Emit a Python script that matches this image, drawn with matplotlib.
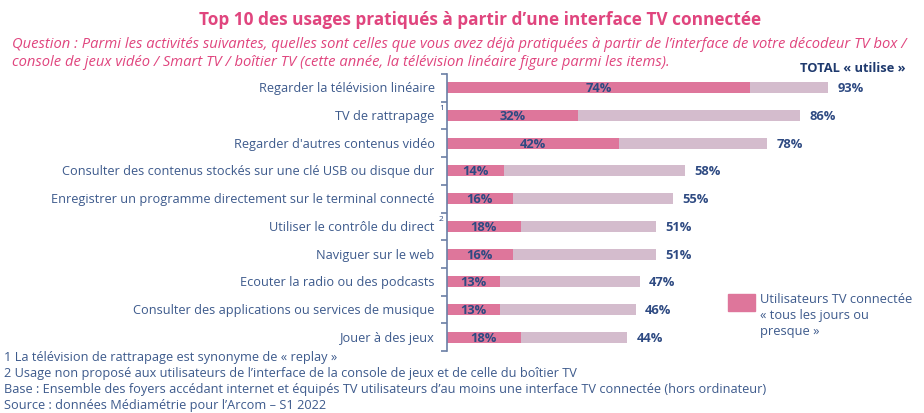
import numpy as np
import matplotlib.pyplot as plt
from matplotlib.patches import Rectangle

plt.rcParams['font.family'] = ['Open Sans', 'DejaVu Sans']

# data
categories = [
    "Regarder la télévision linéaire",
    "TV de rattrapage",
    "Regarder d'autres contenus vidéo",
    "Consulter des contenus stockés sur une clé USB ou disque dur",
    "Enregistrer un programme directement sur le terminal connecté",
    "Utiliser le contrôle du direct",
    "Naviguer sur le web",
    "Ecouter la radio ou des podcasts",
    "Consulter des applications ou services de musique",
    "Jouer à des jeux",
]
daily = [74, 32, 42, 14, 16, 18, 16, 13, 13, 18]
total = [93, 86, 78, 58, 55, 51, 51, 47, 46, 44]
footnote_marks = {1: "1", 5: "2"}

W, H = 924, 414
PINK = "#de769b"
LIGHT = "#d4bccd"
NAVY = "#2e4a82"
TXT = "#3d5a8c"
TITLE = "#e0457e"

fig = plt.figure(figsize=(W / 100, H / 100), dpi=100)

# axes in pixel coords
x0, x1 = 447, 857
ytop, ybot = 75, 352
ax = fig.add_axes([x0 / W, 1 - ybot / H, (x1 - x0) / W, (ybot - ytop) / H])
y = np.arange(len(categories))
ax.barh(y, total, height=0.4, color=LIGHT)
ax.barh(y, daily, height=0.4, color=PINK)
ax.set_xlim(0, 100)
ax.set_ylim(len(categories) - 0.5, -0.5)

for s in ["top", "right", "bottom"]:
    ax.spines[s].set_visible(False)
ax.spines["left"].set_color("#6b7fa5")
ax.spines["left"].set_linewidth(1.2)
ax.set_xticks([])
ax.set_yticks(np.arange(-0.5, len(categories)), minor=False)
ax.set_yticklabels([])
ax.tick_params(axis="y", length=4, width=1.2, color="#6b7fa5", direction="out")

for i, (c, d, t) in enumerate(zip(categories, daily, total)):
    ax.text(-3.0, i, c, ha="right", va="center", fontsize=9.2, color=TXT)
    ax.text(d / 2, i, f"{d}%", ha="center", va="center", fontsize=9.3,
            fontweight="bold", color=NAVY)
    ax.text(t + 2.3, i, f"{t}%", ha="left", va="center", fontsize=9.3,
            fontweight="bold", color=NAVY)
for i, m in footnote_marks.items():
    ax.text(-1.4, i - 0.3, m, ha="center", va="center", fontsize=6, color=NAVY)

# titles
fig.text(480 / W, 1 - 20 / H, "Top 10 des usages pratiqués à partir d’une interface TV connectée",
         ha="center", va="center", fontsize=12.4, fontweight="bold", color=TITLE)
fig.text(12 / W, 1 - 44 / H,
         "Question : Parmi les activités suivantes, quelles sont celles que vous avez déjà pratiquées à partir de l’interface de votre décodeur TV box /",
         ha="left", va="center", fontsize=10.6, style="italic", color=TITLE)
fig.text(12 / W, 1 - 62 / H,
         "console de jeux vidéo / Smart TV / boîtier TV (cette année, la télévision linéaire figure parmi les items).",
         ha="left", va="center", fontsize=10.6, style="italic", color=TITLE)
fig.text(906 / W, 1 - 68 / H, "TOTAL « utilise »", ha="right", va="center",
         fontsize=9.3, fontweight="bold", color="#1f3a6e")

# legend
fig.patches.append(Rectangle((728 / W, 1 - 312 / H), 27 / W, 17 / H,
                             transform=fig.transFigure, color=PINK))
fig.text(760 / W, 1 - 293 / H, "Utilisateurs TV connectée\n« tous les jours ou\npresque »",
         ha="left", va="top", fontsize=9.3, color=TXT, linespacing=1.3)

# footnotes
notes = [
    "1 La télévision de rattrapage est synonyme de « replay »",
    "2 Usage non proposé aux utilisateurs de l’interface de la console de jeux et de celle du boîtier TV",
    "Base : Ensemble des foyers accédant internet et équipés TV utilisateurs d’au moins une interface TV connectée (hors ordinateur)",
    "Source : données Médiamétrie pour l’Arcom – S1 2022",
]
for k, n in enumerate(notes):
    fig.text(4 / W, 1 - (358 + 15.7 * k) / H, n, ha="left", va="center",
             fontsize=9.2, color=TXT)

fig.savefig("out.png", dpi=100, facecolor="white")
